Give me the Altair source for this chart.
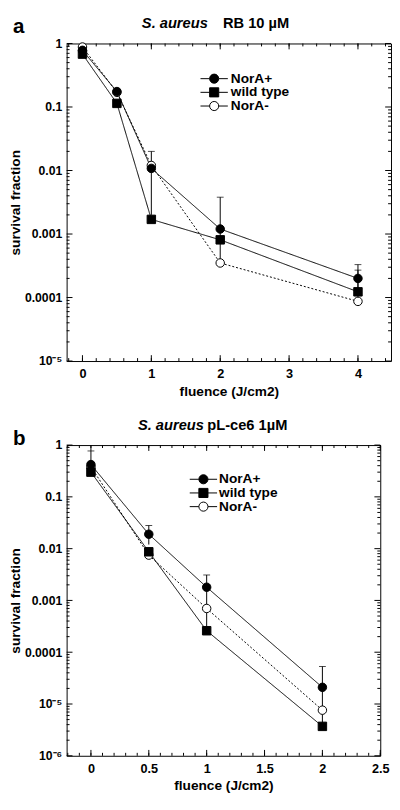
import altair as alt
import pandas as pd

# ---------------- data ----------------
SERIES = ["NorA+", "wild type", "NorA-"]

A_X = [0, 0.5, 1, 2, 4]
A_NORA_PLUS = [0.78, 0.175, 0.0108, 0.0012, 0.0002]
A_WILD = [0.68, 0.114, 0.0017, 0.00081, 0.000123]
A_NORA_MINUS = [0.88, 0.17, 0.012, 0.00035, 0.000087]

A_ERR_SERIES = ["NorA+", "NorA+", "NorA+", "wild type"]
A_ERR_X = [1, 2, 4, 4]
A_ERR_LO = [0.002, 0.00035, 0.00012, 0.0001]
A_ERR_HI = [0.02, 0.0038, 0.00033, 0.00027]

B_X = [0, 0.5, 1, 2]
B_NORA_PLUS = [0.42, 0.019, 0.0018, 0.000021]
B_WILD = [0.30, 0.0087, 0.00026, 0.0000037]
B_NORA_MINUS = [0.38, 0.0075, 0.0007, 0.0000076]

B_ERR_SERIES = ["NorA+", "NorA+", "NorA+", "NorA+"]
B_ERR_X = [0, 0.5, 1, 2]
B_ERR_LO = [0.3, 0.012, 0.00026, 0.0000037]
B_ERR_HI = [0.77, 0.028, 0.0031, 0.000053]

A_TITLE = ["a", "S. aureus", "RB 10 µM"]
B_TITLE = ["b", "S. aureus", "pL-ce6 1µM"]
Y_TITLE = "survival fraction"
X_TITLE = "fluence (J/cm2)"

A_X_MAJOR = [0, 1, 2, 3, 4]
B_X_MAJOR = [0, 0.5, 1, 1.5, 2, 2.5]
A_Y_MAJOR = [1e-5, 1e-4, 1e-3, 1e-2, 1e-1, 1]
B_Y_MAJOR = [1e-6, 1e-5, 1e-4, 1e-3, 1e-2, 1e-1, 1]

# ---------------- style ----------------
FONT = "Liberation Sans"
SHAPES = ["circle", "square", "circle"]
FILLS = ["black", "black", "white"]
DASHES = [[1, 0], [1, 0], [2, 2]]
CIRC = "M-3,0H-1M1,0H3M1,0A1,1,0,1,1,-1,0A1,1,0,1,1,1,0Z"
SQR = "M-3,0H-1M1,0H3M-1,-1H1V1H-1Z"
LEG_PATHS = [CIRC, SQR, CIRC]
YLABEL = ("['10⁻⁶','10⁻⁵','0.0001','0.001','0.01','0.1','1']"
          "[round(log(datum.value)/LN10)+6]")
MAJ, MIN = 6, 3


def minor_x(lo, hi, step):
    n = int(round((hi - lo) / step))
    return [round(lo + i * step, 4) for i in range(n + 1)]


def minor_y(e0, e1):
    return [k * 10.0 ** e for e in range(e0, e1) for k in range(2, 10)]


def long_df(xs, cols):
    # NorA+ last so its filled symbols sit on top
    rows = []
    for name, vals in reversed(list(zip(SERIES, cols))):
        for x, y in zip(xs, vals):
            rows.append({"x": x, "y": y, "series": name})
    return pd.DataFrame(rows)


def panel(xs, cols, err, xdom, ydom, xmajor, xminor, ymajor, yminor, W, H,
          titles, tpos, legpos, legfont, legoff):
    df = long_df(xs, cols)
    edf = pd.DataFrame({"x": err[1], "lo": err[2], "hi": err[3], "series": err[0]})
    xs_ = alt.Scale(domain=xdom, nice=False, zero=False)
    ys_ = alt.Scale(type="log", domain=ydom, nice=False)

    x_lab = alt.Axis(values=xmajor, orient="bottom", ticks=False, domain=False,
                     grid=False, labelExpr="'' + datum.value", labelFont=FONT,
                     labelFontSize=13, labelFontWeight="bold", labelColor="black",
                     labelPadding=7, labelFlush=False, labelOverlap=False,
                     title=X_TITLE, titleFont=FONT, titleFontSize=14,
                     titleFontWeight="bold", titleColor="black", titlePadding=4)
    y_lab = alt.Axis(values=ymajor, orient="left", ticks=False, domain=False,
                     grid=False, labelExpr=YLABEL, labelFont=FONT,
                     labelFontSize=12.5, labelFontWeight="bold", labelColor="black",
                     labelPadding=5, labelFlush=False, labelOverlap=False,
                     title=Y_TITLE, titleFont=FONT, titleFontSize=14,
                     titleFontWeight="bold", titleColor="black", titlePadding=2)

    def X(field):
        return alt.X(field, scale=xs_, axis=x_lab)

    def Y(field):
        return alt.Y(field, scale=ys_, axis=y_lab)

    lines = alt.Chart(df).mark_line(color="black", strokeWidth=1).encode(
        x=X("x:Q"), y=Y("y:Q"),
        detail="series:N",
        strokeDash=alt.StrokeDash("series:N", scale=alt.Scale(domain=SERIES, range=DASHES), legend=None),
    )

    # inward tick marks on all four sides, placed by the scales
    tick_layers = []
    for vals, ln in ((ymajor, MAJ), (yminor, MIN)):
        tdf = pd.DataFrame({"v": vals})
        for x0, x1 in ((0, ln), (W - ln, W)):
            tick_layers.append(alt.Chart(tdf).mark_rule(color="black", strokeWidth=1).encode(
                y=Y("v:Q"), x=alt.value(x0), x2=alt.value(x1)))
    for vals, ln in ((xmajor, MAJ), (xminor, MIN)):
        tdf = pd.DataFrame({"v": vals})
        for y0, y1 in ((0, ln), (H - ln, H)):
            tick_layers.append(alt.Chart(tdf).mark_rule(color="black", strokeWidth=1).encode(
                x=X("v:Q"), y=alt.value(y0), y2=alt.value(y1)))

    rules = alt.Chart(edf).mark_rule(color="black", strokeWidth=1).encode(
        x=X("x:Q"), y=Y("lo:Q"), y2="hi:Q",
    )
    caps = alt.Chart(edf).mark_tick(orient="horizontal", size=7, thickness=1, color="black").encode(
        x=X("x:Q"), y=Y("hi:Q"),
    )
    points = alt.Chart(df).mark_point(opacity=1, stroke="black", strokeWidth=1, size=75).encode(
        x=X("x:Q"), y=Y("y:Q"),
        shape=alt.Shape("series:N", scale=alt.Scale(domain=SERIES, range=SHAPES), legend=None),
        fill=alt.Fill("series:N", scale=alt.Scale(domain=SERIES, range=FILLS), legend=None),
    )
    leg = alt.Legend(title=None, orient="none", legendX=legpos[0], legendY=legpos[1],
                     labelFont=FONT, labelFontSize=legfont, labelFontWeight="bold",
                     labelColor="black", symbolSize=87, symbolStrokeWidth=1,
                     labelOffset=legoff, rowPadding=0, padding=0)
    legend_layer = alt.Chart(df).transform_filter("false").mark_point(
        opacity=1, stroke="black", strokeWidth=1, size=87).encode(
        shape=alt.Shape("series:N", scale=alt.Scale(domain=SERIES, range=LEG_PATHS), legend=leg),
        fill=alt.Fill("series:N", scale=alt.Scale(domain=SERIES, range=FILLS), legend=leg),
        strokeDash=alt.StrokeDash("series:N", scale=alt.Scale(domain=SERIES, range=DASHES), legend=leg),
    )

    texts = []
    styles = [(21, "normal"), (15, "italic"), (15, "normal")]
    for t, (px, py), (fs, st) in zip(titles, tpos, styles):
        texts.append(
            alt.Chart(pd.DataFrame({"t": [t]})).mark_text(
                align="left", baseline="alphabetic", font=FONT, fontSize=fs,
                fontWeight="bold", fontStyle=st, color="black"
            ).encode(text="t:N", x=alt.value(px), y=alt.value(py))
        )

    return alt.layer(lines, *tick_layers, rules, caps, points, legend_layer, *texts).resolve_scale(
        shape="independent", fill="independent"
    ).properties(width=W, height=H)


pa = panel(A_X, [A_NORA_PLUS, A_WILD, A_NORA_MINUS],
           [A_ERR_SERIES, A_ERR_X, A_ERR_LO, A_ERR_HI],
           [-0.23, 4.48], [1e-5, 1], A_X_MAJOR, minor_x(-0.2, 4.4, 0.2),
           A_Y_MAJOR, minor_y(-5, 0), 332, 325,
           A_TITLE, [(-55, -11), (77, -16), (160, -16)], (144, 29), 14, 10)

pb = panel(B_X, [B_NORA_PLUS, B_WILD, B_NORA_MINUS],
           [B_ERR_SERIES, B_ERR_X, B_ERR_LO, B_ERR_HI],
           [-0.21, 2.5], [1e-6, 1], B_X_MAJOR, minor_x(-0.2, 2.5, 0.1),
           B_Y_MAJOR, minor_y(-6, 0), 321, 318,
           B_TITLE, [(-55, 0), (73, -15), (144, -15)], (133, 28), 14, 9)

chart = alt.vconcat(pa, pb, spacing=19).properties(
    padding={"top": -2, "left": 0, "right": 0, "bottom": 0}
).configure_view(stroke="black", strokeWidth=1)

chart.save("out.html", embed_options={"renderer": "svg", "actions": False})
